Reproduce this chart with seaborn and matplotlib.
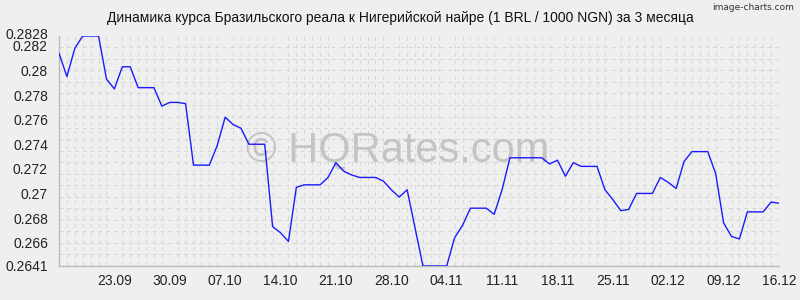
import numpy as np
import pandas as pd
import matplotlib
matplotlib.use("Agg")
import matplotlib.pyplot as plt
import matplotlib.dates as mdates
import matplotlib.transforms as mtransforms
from matplotlib.ticker import FixedLocator
import seaborn as sns

# ---- data ----
start_date = "2024-09-16"
end_date = "2024-12-16"
rates = [
    0.2814, 0.2795, 0.2818, 0.2828, 0.2828, 0.2828, 0.2793, 0.2785, 0.2803, 0.2803,
    0.2786, 0.2786, 0.2786, 0.2771, 0.2774, 0.2774, 0.2773, 0.2723, 0.2723, 0.2723,
    0.2739, 0.2762, 0.2756, 0.2753, 0.2740, 0.2740, 0.2740, 0.2673, 0.2668, 0.2661,
    0.2705, 0.2707, 0.2707, 0.2707, 0.2713, 0.2725, 0.2718, 0.2715, 0.2713, 0.2713,
    0.2713, 0.2710, 0.2703, 0.2697, 0.2703, 0.2672, 0.2641, 0.2641, 0.2641, 0.2641,
    0.2664, 0.2674, 0.2688, 0.2688, 0.2688, 0.2683, 0.2703, 0.2729, 0.2729, 0.2729,
    0.2729, 0.2729, 0.2724, 0.2727, 0.2714, 0.2725, 0.2722, 0.2722, 0.2722, 0.2703,
    0.2695, 0.2686, 0.2687, 0.2700, 0.2700, 0.2700, 0.2713, 0.2709, 0.2704, 0.2726,
    0.2734, 0.2734, 0.2734, 0.2716, 0.2676, 0.2665, 0.2663, 0.2685, 0.2685, 0.2685,
    0.2693, 0.2692,
]
y_ticks = [0.2641, 0.266, 0.268, 0.27, 0.272, 0.274, 0.276, 0.278, 0.28, 0.282, 0.2828]
y_tick_labels = ["0.2641", "0.266", "0.268", "0.27", "0.272", "0.274", "0.276",
                 "0.278", "0.28", "0.282", "0.2828"]
x_tick_dates = ["2024-09-23", "2024-09-30", "2024-10-07", "2024-10-14", "2024-10-21",
                "2024-10-28", "2024-11-04", "2024-11-11", "2024-11-18", "2024-11-25",
                "2024-12-02", "2024-12-09", "2024-12-16"]
title = "Динамика курса Бразильского реала к Нигерийской найре (1 BRL / 1000 NGN) за 3 месяца"
watermark = "© HQRates.com"
credit = "image-charts.com"

dates = pd.date_range(start_date, end_date, freq="D")
df = pd.DataFrame({"date": dates, "rate": rates})

bg = "#efefef"
sns.set_style("white", {"axes.facecolor": bg, "figure.facecolor": bg})
plt.rcParams["font.family"] = ["Liberation Sans", "DejaVu Sans"]

fig = plt.figure(figsize=(8, 3), dpi=100)
fig.patch.set_facecolor(bg)
ax = fig.add_axes([59 / 800, 34 / 300, 720 / 800, 230 / 300])
ax.set_facecolor(bg)

ymin, ymax = y_ticks[0], y_ticks[-1]
ax.set_xlim(dates[0], dates[-1])
ax.set_ylim(ymin, ymax)

# grid: every day vertically, every 5% of range horizontally
ax.xaxis.set_minor_locator(mdates.DayLocator())
ax.yaxis.set_minor_locator(FixedLocator(list(np.linspace(ymin, ymax, 21))))
ax.grid(which="minor", color="#d6d6d6", linestyle=(0, (4, 4)), linewidth=0.7)
ax.grid(which="major", visible=False)
ax.set_axisbelow(True)

ax.text(0.47, 0.505, watermark, transform=ax.transAxes, ha="center", va="center",
        fontsize=30, color="#c4c4c4", zorder=1.5)

sns.lineplot(data=df, x="date", y="rate", ax=ax, color="#1a1aff", linewidth=1.0, zorder=3)

ax.set_yticks(y_ticks)
ax.set_yticklabels(y_tick_labels)
ax.set_xticks(pd.to_datetime(x_tick_dates))
ax.xaxis.set_major_formatter(mdates.DateFormatter("%d.%m"))
ax.tick_params(axis="both", which="major", length=0, labelsize=10, colors="#222222", pad=8)
ax.tick_params(axis="x", which="major", pad=6)
ax.tick_params(axis="both", which="minor", length=4, color="#d6d6d6", width=0.7)
ax.set_xlabel("")
ax.set_ylabel("")

# nudge the top label slightly so it sits just above 0.282, as in the reference
top_lbl = ax.get_yticklabels()[-1]
top_lbl.set_transform(top_lbl.get_transform() +
                      mtransforms.ScaledTranslation(0, 2 / 72, fig.dpi_scale_trans))

for s in ["top", "right"]:
    ax.spines[s].set_visible(False)
for s in ["left", "bottom"]:
    ax.spines[s].set_color("#bbbbbb")
    ax.spines[s].set_linewidth(1)

fig.text(0.5, 0.94, title, ha="center", va="center", fontsize=10, color="#111111")
fig.text(0.992, 0.975, credit, ha="right", va="center", fontsize=6.5,
         color="#333333", family="DejaVu Sans")

fig.savefig("out.png", dpi=100, facecolor=bg)
